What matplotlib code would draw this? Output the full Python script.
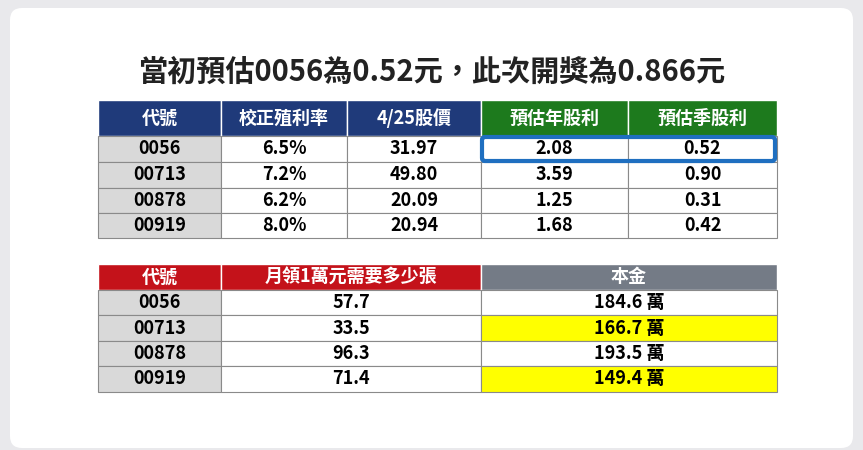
import matplotlib
matplotlib.use("Agg")
import matplotlib.pyplot as plt
from matplotlib.patches import Rectangle, FancyBboxPatch

plt.rcParams['font.family'] = ['Noto Sans CJK TC', 'DejaVu Sans']

title = "當初預估0056為0.52元，此次開獎為0.866元"
codes = ["0056", "00713", "00878", "00919"]
headers1 = ["代號", "校正殖利率", "4/25股價", "預估年股利", "預估季股利"]
yield_rate = ["6.5%", "7.2%", "6.2%", "8.0%"]
price = ["31.97", "49.80", "20.09", "20.94"]
annual_div = ["2.08", "3.59", "1.25", "1.68"]
quarter_div = ["0.52", "0.90", "0.31", "0.42"]
headers2 = ["代號", "月領1萬元需要多少張", "本金"]
sheets = ["57.7", "33.5", "96.3", "71.4"]
principal = ["184.6 萬", "166.7 萬", "193.5 萬", "149.4 萬"]
yellow_rows = [1, 3]

fig = plt.figure(figsize=(8.63, 4.5), dpi=100)
fig.patch.set_facecolor("#e9e9ec")
ax = fig.add_axes([0, 0, 1, 1])
ax.set_xlim(0, 863); ax.set_ylim(450, 0); ax.axis("off")
ax.add_patch(FancyBboxPatch((10, 8), 843, 440, boxstyle="round,pad=0,rounding_size=12",
                            fc="white", ec="none"))
ax.text(432, 72, title, ha="center", va="center", fontsize=21, fontweight="bold", color="#222")

navy, green, red, gray = "#1f3a7a", "#1d7a1d", "#c4121a", "#747b86"

def table(x_edges, y_edges, headers, hcolors, cols, cellcolors):
    for j, h in enumerate(headers):
        x0, x1 = x_edges[j], x_edges[j+1]
        ax.add_patch(Rectangle((x0, y_edges[0]), x1-x0, y_edges[1]-y_edges[0], fc=hcolors[j], ec="white", lw=1))
        ax.text((x0+x1)/2, (y_edges[0]+y_edges[1])/2, h, ha="center", va="center",
                color="white", fontsize=13, fontweight="bold")
    for i in range(len(cols[0])):
        y0, y1 = y_edges[i+1], y_edges[i+2]
        for j, col in enumerate(cols):
            x0, x1 = x_edges[j], x_edges[j+1]
            ax.add_patch(Rectangle((x0, y0), x1-x0, y1-y0, fc=cellcolors(i, j), ec="#8a8a8a", lw=0.8))
            ax.text((x0+x1)/2, (y0+y1)/2, col[i], ha="center", va="center",
                    color="black", fontsize=13, fontweight="bold")

x1e = [98, 221, 347, 481, 628, 777]
y1e = [100, 136, 162, 188, 213, 238]
table(x1e, y1e, headers1, [navy, navy, navy, green, green],
      [codes, yield_rate, price, annual_div, quarter_div],
      lambda i, j: "#d9d9d9" if j == 0 else "white")
ax.add_patch(FancyBboxPatch((482, 137), 293, 24, boxstyle="round,pad=0,rounding_size=3",
                            fc="none", ec="#1f6fc0", lw=3))

x2e = [98, 221, 481, 777]
y2e = [264, 290, 315, 341, 366, 392]
table(x2e, y2e, headers2, [red, red, gray], [codes, sheets, principal],
      lambda i, j: "#d9d9d9" if j == 0 else ("#ffff00" if (j == 2 and i in yellow_rows) else "white"))

fig.savefig("out.png", dpi=100, facecolor=fig.get_facecolor())
